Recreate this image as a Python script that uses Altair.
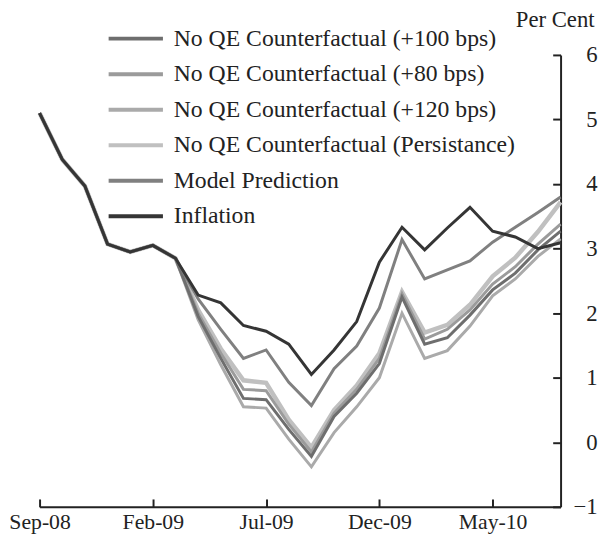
import altair as alt
import pandas as pd

months = ["Sep-08", "Oct-08", "Nov-08", "Dec-08", "Jan-09", "Feb-09", "Mar-09",
          "Apr-09", "May-09", "Jun-09", "Jul-09", "Aug-09", "Sep-09", "Oct-09",
          "Nov-09", "Dec-09", "Jan-10", "Feb-10", "Mar-10", "Apr-10", "May-10",
          "Jun-10", "Jul-10", "Aug-10"]
tick_idx = [0, 5, 10, 15, 20]
tick_labels = ["Sep-08", "Feb-09", "Jul-09", "Dec-09", "May-10"]

# common path Sep-08 .. Mar-09
common = [5.10, 4.38, 3.97, 3.07, 2.95, 3.05, 2.85]

inflation = common + [2.28, 2.16, 1.81, 1.72, 1.52, 1.05, 1.43, 1.87, 2.79, 3.33,
                      2.98, 3.32, 3.64, 3.27, 3.18, 3.00, 3.09]
model = common + [2.22, 1.75, 1.30, 1.43, 0.93, 0.57, 1.14, 1.49, 2.08, 3.14,
                  2.53, 2.67, 2.81, 3.10, 3.33, 3.56, 3.80]
cf_persist = common + [2.05, 1.45, 0.96, 0.92, 0.35, -0.08, 0.50, 0.88, 1.38, 2.33,
                       1.70, 1.82, 2.13, 2.57, 2.86, 3.26, 3.72]
cf_80 = common + [2.00, 1.38, 0.82, 0.80, 0.28, -0.15, 0.45, 0.82, 1.30, 2.30,
                  1.60, 1.75, 2.05, 2.45, 2.72, 3.07, 3.38]
cf_100 = common + [1.95, 1.30, 0.68, 0.66, 0.20, -0.22, 0.40, 0.76, 1.22, 2.25,
                   1.52, 1.62, 1.97, 2.36, 2.62, 2.98, 3.27]
cf_120 = common + [1.90, 1.20, 0.55, 0.53, 0.05, -0.38, 0.15, 0.55, 1.00, 2.00,
                   1.30, 1.42, 1.80, 2.27, 2.53, 2.88, 3.15]

series_names = ["No QE Counterfactual (+100 bps)", "No QE Counterfactual (+80 bps)",
                "No QE Counterfactual (+120 bps)", "No QE Counterfactual (Persistance)",
                "Model Prediction", "Inflation"]
series_values = [cf_100, cf_80, cf_120, cf_persist, model, inflation]
colors = ["#6e6e6e", "#9b9b9b", "#aaaaaa", "#c0c0c0", "#808080", "#353535"]
widths = [3, 3, 3, 4.5, 3, 3]

rows = []
for name, vals in zip(series_names, series_values):
    for i, v in enumerate(vals):
        rows.append({"idx": i, "month": months[i], "series": name, "value": v})
df = pd.DataFrame(rows)

FONT = "Liberation Serif"
W, H = 528, 458

label_expr = " : ".join(
    [f"datum.value == {i} ? '{l}'" for i, l in zip(tick_idx, tick_labels)]) + " : ''"

xscale = alt.Scale(domain=[0, 23], nice=False, zero=False)
yscale = alt.Scale(domain=[-1, 6], nice=False, zero=False)
cscale = alt.Scale(domain=series_names, range=colors)

legend = alt.Legend(title=None, orient="none", legendX=74, legendY=-40,
                    symbolType="M-1.28,0H1.28", symbolSize=1849, symbolStrokeWidth=4,
                    labelFont=FONT, labelFontSize=24, labelColor="#222222",
                    labelLimit=500, labelOffset=15, rowPadding=0)

# axes with inward ticks (drawn on the opposite side, shifted across the plot)
x_tick_axis = alt.Axis(orient="top", offset=-H, values=tick_idx, labels=False,
                       tickSize=8, tickWidth=2, domainWidth=2, domainColor="#222222",
                       tickColor="#222222", grid=False, title=None)
y_tick_axis = alt.Axis(orient="left", offset=-W, values=list(range(-1, 7)), labels=False,
                       tickSize=8, tickWidth=2, domainWidth=2, domainColor="#222222",
                       tickColor="#222222", grid=False, title=None)
x_lab_axis = alt.Axis(orient="bottom", values=tick_idx, labelExpr=label_expr,
                      domain=False, ticks=False, labelPadding=5, grid=False, title=None,
                      labelFlush=False, labelOverlap=False,
                      labelFont=FONT, labelFontSize=22, labelColor="#222222")
y_lab_axis = alt.Axis(orient="right", values=list(range(-1, 7)), domain=False, ticks=False,
                      labelAlign="right", labelPadding=37, grid=False,
                      labelFlush=False, labelOverlap=False,
                      labelFont=FONT, labelFontSize=23, labelColor="#222222",
                      title="Per Cent", titleAngle=0, titleFont=FONT, titleFontSize=23,
                      titleFontWeight="normal", titleColor="#222222",
                      titleAlign="center", titleBaseline="middle", titleX=-6, titleY=-36)

draw_order = [3, 2, 1, 0, 4, 5]
layers = []
for k, si in enumerate(draw_order):
    name = series_names[si]
    if k == 0:
        xa, ya = x_tick_axis, y_tick_axis
    elif k == 1:
        xa, ya = x_lab_axis, y_lab_axis
    else:
        xa, ya = None, None
    layers.append(
        alt.Chart(df).transform_filter(alt.datum.series == name)
        .mark_line(strokeWidth=widths[si], strokeJoin="miter", strokeMiterLimit=3)
        .encode(
            x=alt.X("idx:Q", scale=xscale, axis=xa),
            y=alt.Y("value:Q", scale=yscale, axis=ya),
            color=alt.Color("series:N", scale=cscale, legend=legend if k == 0 else None),
        )
    )

chart = (
    alt.layer(*layers)
    .resolve_scale(x="shared", y="shared", color="shared")
    .resolve_axis(x="independent", y="independent")
    .properties(width=W, height=H,
                autosize=alt.AutoSizeParams(type="none"),
                padding={"left": 32, "top": 44, "right": 44, "bottom": 28},
                background="white")
    .configure_view(stroke=None)
)

chart.save("out.html", embed_options={"renderer": "svg", "actions": False})
